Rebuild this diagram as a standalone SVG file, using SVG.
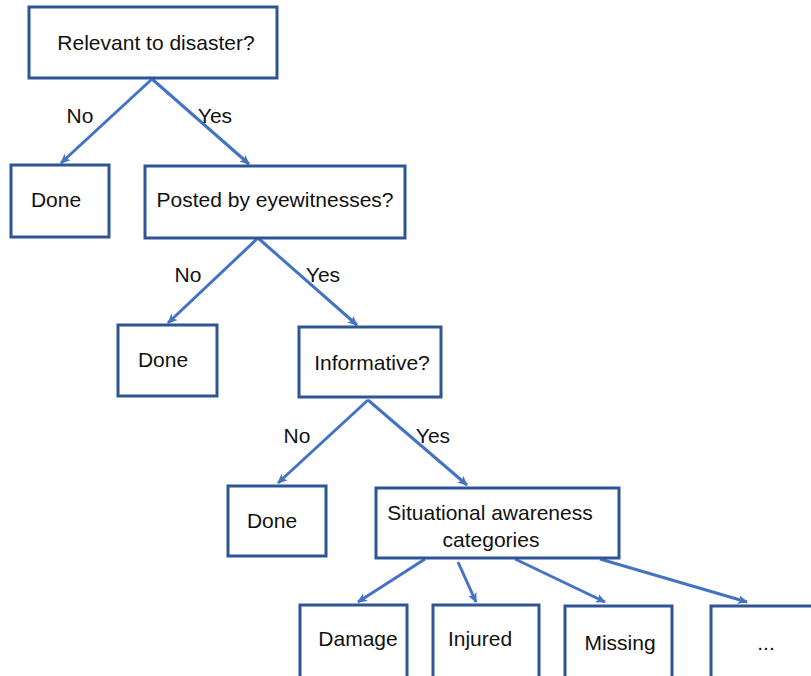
<svg xmlns="http://www.w3.org/2000/svg" width="811" height="676" viewBox="0 0 811 676">
  <style>
    .box { fill: #ffffff; stroke: #2F5597; stroke-width: 3; }
    .edge { fill: none; stroke: #4472C4; stroke-width: 3; marker-end: url(#arrow); }
    text { font-family: "Liberation Sans", Arial, sans-serif; font-size: 21px; fill: #111111; text-anchor: middle; }
  </style>
  <defs>
    <!-- small solid arrowhead, sized in user units -->
    <marker id="arrow" viewBox="0 0 10 10" refX="9" refY="5" markerWidth="10" markerHeight="10" markerUnits="userSpaceOnUse" orient="auto">
      <path d="M0,0.5 L10,5 L0,9.5 L2.5,5 Z" fill="#4472C4"/>
    </marker>
  </defs>
  <rect width="811" height="676" fill="#ffffff"/>

  <g id="connectors">
    <path class="edge" d="M152,79 L61,163"/>
    <path class="edge" d="M152,79 L249,164"/>
    <path class="edge" d="M258,238 L168,323"/>
    <path class="edge" d="M258,238 L357,325"/>
    <path class="edge" d="M368,400 L278,483"/>
    <path class="edge" d="M368,400 L467,485"/>
    <path class="edge" d="M425,559 L358,602"/>
    <path class="edge" d="M458,562 L476,602"/>
    <path class="edge" d="M515,559 L605,602"/>
    <path class="edge" d="M600,559 L747,602"/>
    <text x="80" y="123">No</text>
    <text x="215" y="123">Yes</text>
    <text x="188" y="282">No</text>
    <text x="323" y="282">Yes</text>
    <text x="297" y="443">No</text>
    <text x="433" y="443">Yes</text>
  </g>

  <g id="relevant">
    <rect class="box" x="29" y="7" width="248" height="71"/>
    <text x="156" y="50">Relevant to disaster?</text>
  </g>
  <g id="done1">
    <rect class="box" x="11" y="165" width="98" height="72"/>
    <text x="56" y="207">Done</text>
  </g>
  <g id="eyewitness">
    <rect class="box" x="145" y="166" width="260" height="72"/>
    <text x="275" y="207">Posted by eyewitnesses?</text>
  </g>
  <g id="done2">
    <rect class="box" x="118" y="325" width="99" height="71"/>
    <text x="163" y="367">Done</text>
  </g>
  <g id="informative">
    <rect class="box" x="299" y="327" width="142" height="70"/>
    <text x="372" y="370">Informative?</text>
  </g>
  <g id="done3">
    <rect class="box" x="228" y="486" width="98" height="70"/>
    <text x="272" y="528">Done</text>
  </g>
  <g id="categories">
    <rect class="box" x="376" y="488" width="243" height="70"/>
    <text x="490" y="520">Situational awareness</text>
    <text x="491" y="547">categories</text>
  </g>
  <g id="damage">
    <rect class="box" x="300" y="605" width="107" height="90"/>
    <text x="358" y="646">Damage</text>
  </g>
  <g id="injured">
    <rect class="box" x="433" y="605" width="106" height="90"/>
    <text x="480" y="646">Injured</text>
  </g>
  <g id="missing">
    <rect class="box" x="565" y="606" width="107" height="90"/>
    <text x="620" y="650">Missing</text>
  </g>
  <g id="more">
    <rect class="box" x="711" y="606" width="120" height="90"/>
    <text x="766" y="650">...</text>
  </g>
</svg>
